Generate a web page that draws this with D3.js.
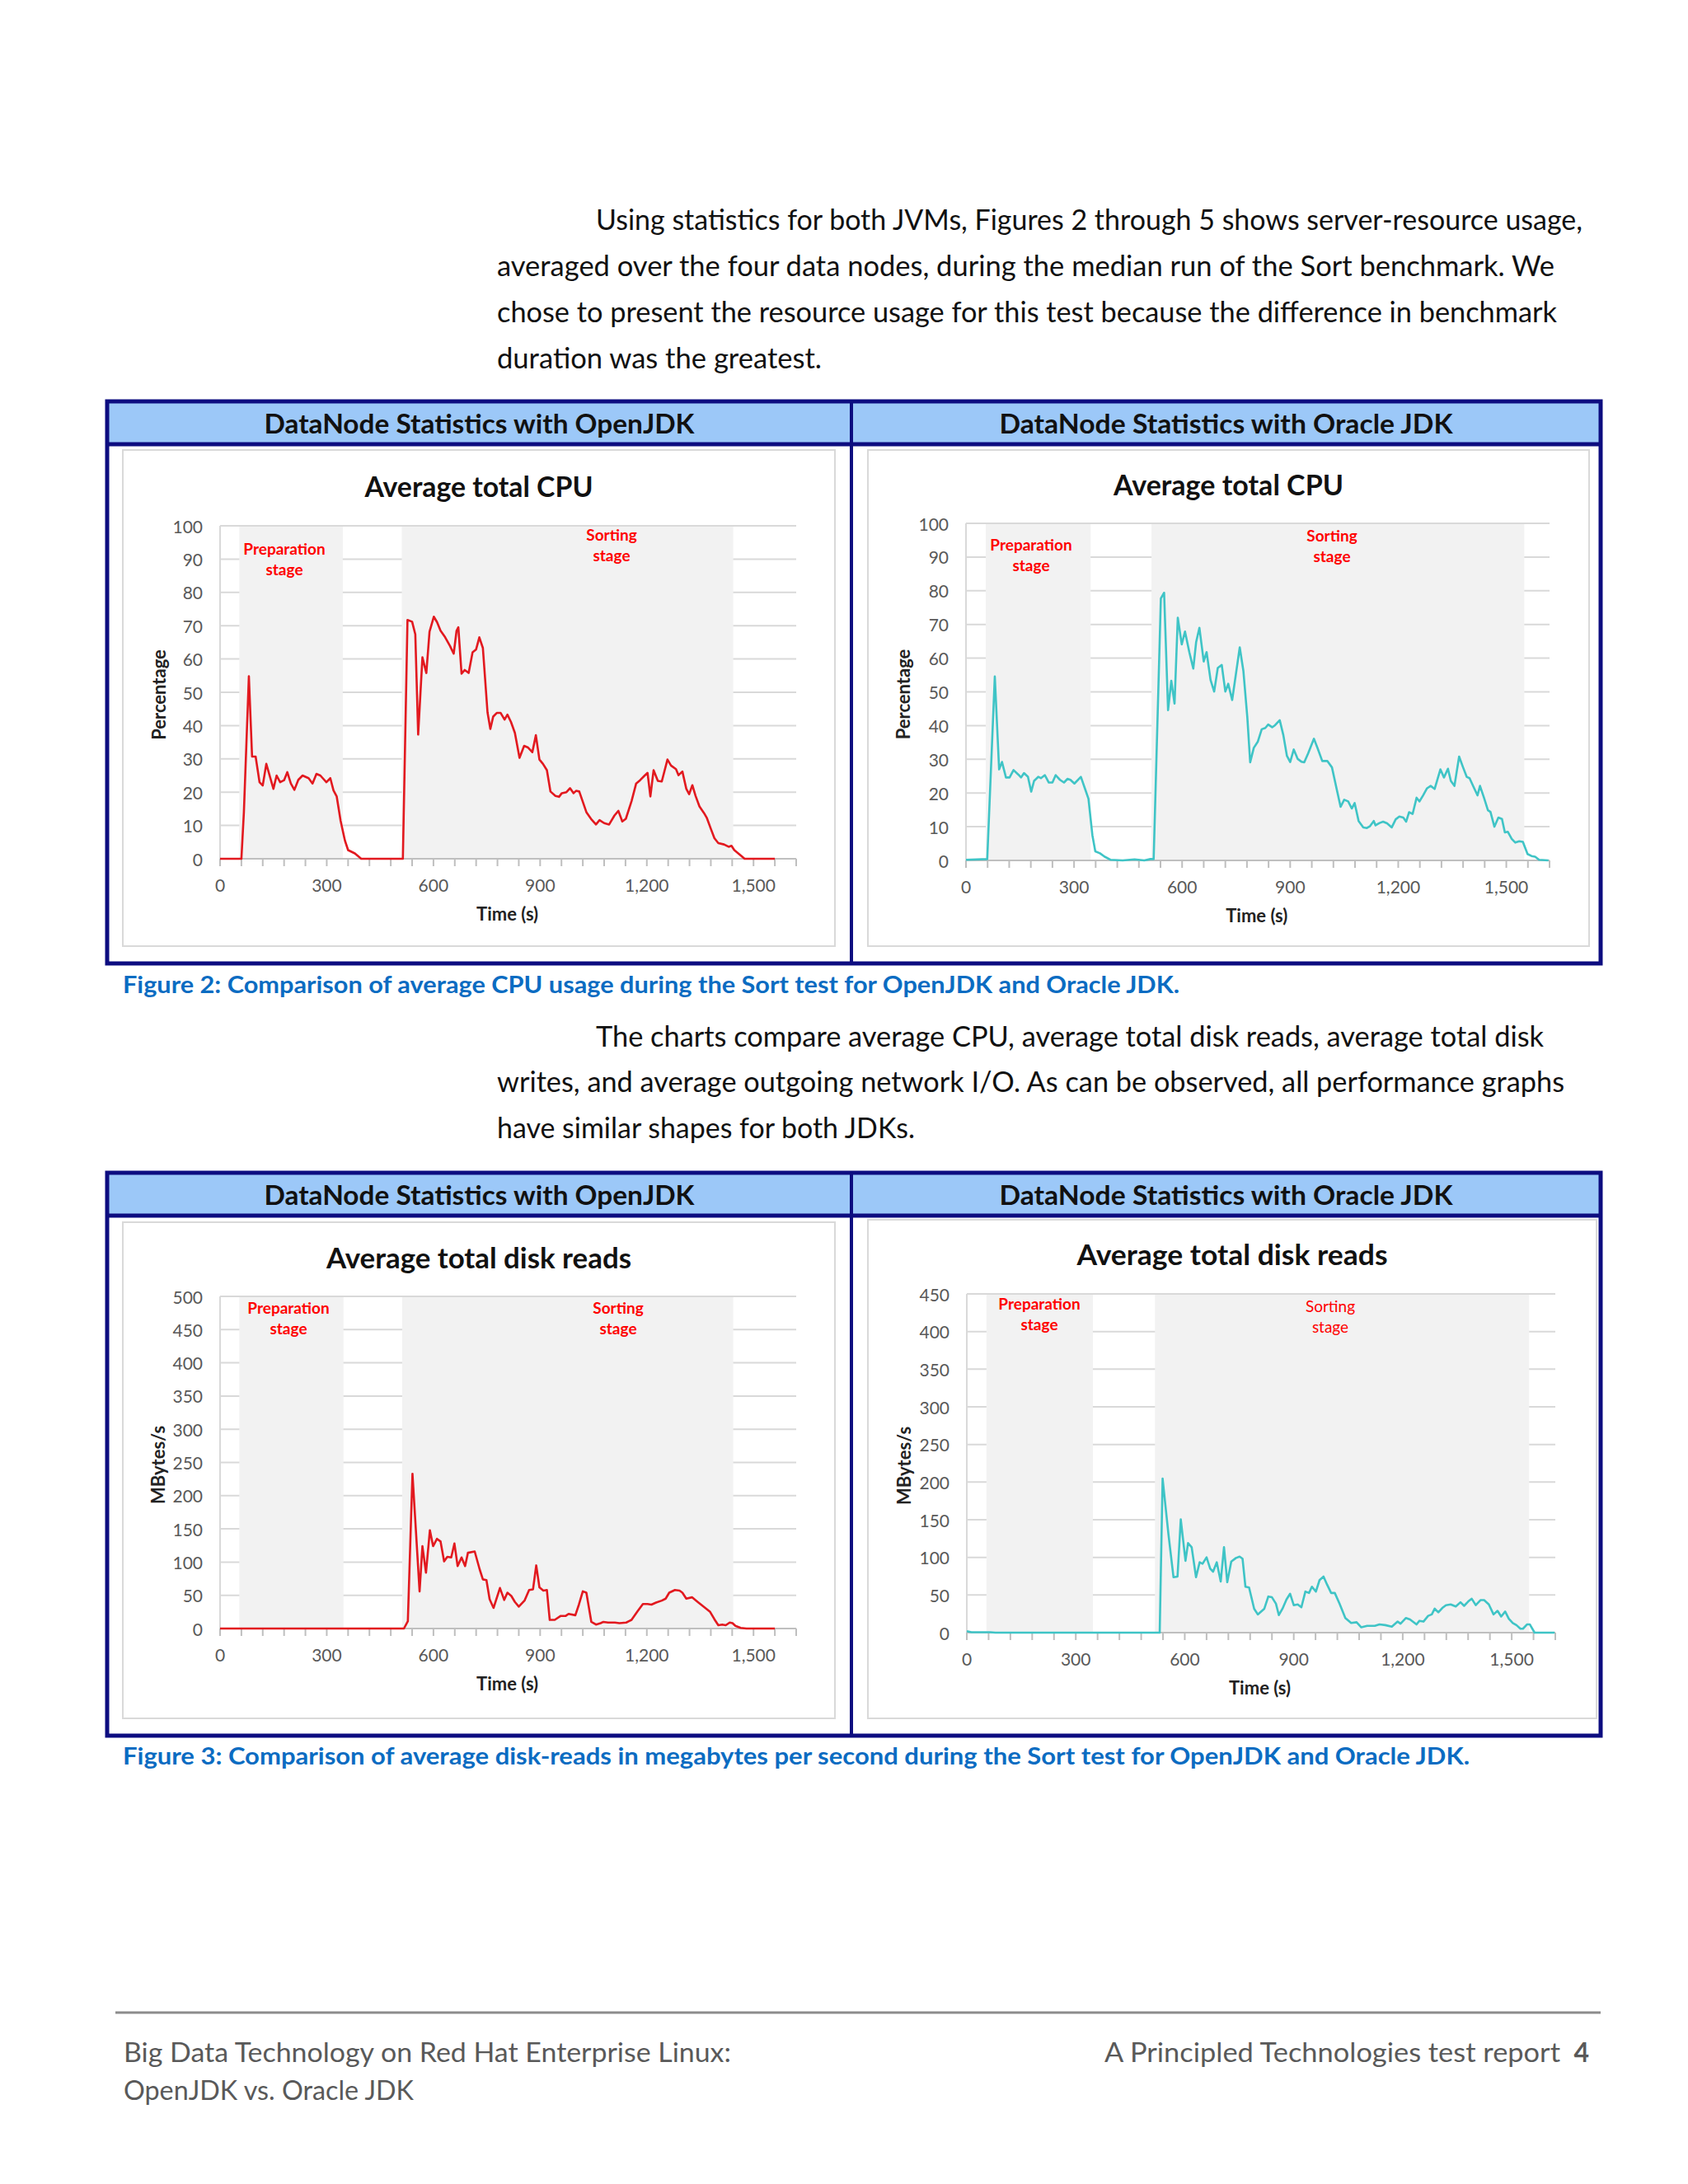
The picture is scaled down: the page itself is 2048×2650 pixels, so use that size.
<!DOCTYPE html>
<html>
<head>
<meta charset="utf-8">
<script src="https://cdn.jsdelivr.net/npm/d3@7"></script>
<style>
    body { margin: 0; background: #fff; }
    svg { display: block; font-family: Lato, "Open Sans", sans-serif; }
</style>
</head>
<body>
<svg width="2048" height="2650"></svg>
<script>
// Series: [time in s, value]
var cpuOpenJDK = [
    [0, 0], [60, 0], [67, 14], [81, 54.8], [90, 30.7], [100, 30.7], [111, 23], [120, 22], [130, 28.5],
    [150, 21], [159, 25], [169, 23], [180, 23.6], [189, 26], [199, 22.6], [209, 20.7], [220, 23.7],
    [232, 25], [249, 24.2], [260, 22.6], [271, 25.5], [282, 25], [299, 23], [310, 24.2], [319, 20.5],
    [328, 18.7], [339, 11.4], [351, 5.5], [360, 2.6], [379, 1.6], [397, 0], [514, 0], [527, 71.7],
    [540, 71.2], [549, 67.4], [557, 37.3], [569, 60.5], [580, 55.8], [589, 68.2], [601, 72.7],
    [610, 71.1], [620, 68.5], [633, 66.5], [646, 64], [657, 61.6], [665, 68.5], [670, 69.5],
    [679, 55.6], [688, 56.7], [699, 55.8], [710, 62], [720, 62.9], [729, 66.5], [739, 63.3],
    [752, 44], [760, 39], [768, 42.7], [778, 43.8], [789, 43.8], [800, 41.8], [808, 43.3],
    [818, 41.1], [829, 37.8], [842, 30.3], [855, 33.9], [866, 33.4], [878, 32], [888, 37.1],
    [898, 29.8], [908, 28.5], [919, 26.6], [929, 20.2], [943, 18.9], [953, 18.6], [961, 19.7],
    [974, 20], [984, 21.2], [994, 19.7], [1001, 20.4], [1010, 20.2], [1030, 14], [1043, 12],
    [1057, 10.3], [1067, 11.6], [1080, 10.7], [1094, 10.3], [1109, 13], [1120, 14.4], [1131, 11.2],
    [1141, 12], [1157, 17.3], [1170, 22.6], [1181, 23.6], [1194, 25], [1202, 25.8], [1210, 18.7],
    [1219, 26.6], [1231, 23.4], [1242, 23.2], [1258, 29.8], [1268, 28], [1282, 26.9], [1289, 25.1],
    [1300, 26.2], [1311, 21], [1319, 19.4], [1328, 22.1], [1337, 18.9], [1348, 15.7], [1361, 13.7],
    [1369, 12.2], [1380, 9], [1390, 6.2], [1401, 4.7], [1417, 4.3], [1430, 3.6], [1438, 3.9],
    [1446, 2.6], [1462, 1.2], [1475, 0], [1560, 0]
];
var cpuOracleJDK = [
    [0, 0.2], [59, 0.4], [80, 54.6], [92, 27], [100, 29.2], [111, 24.6], [121, 24.6], [132, 26.8],
    [145, 25.5], [153, 24.6], [161, 25.9], [172, 24.8], [181, 20.4], [189, 23.6], [201, 24.8],
    [208, 24.4], [219, 25.3], [230, 23.1], [240, 23.1], [249, 25.3], [261, 23.9], [272, 23.1],
    [282, 24.2], [290, 23.9], [301, 22.8], [319, 24.8], [330, 21.4], [340, 18.3], [351, 7.4],
    [359, 2.7], [372, 2.1], [385, 1.1], [401, 0.2], [435, 0], [468, 0.3], [495, 0], [512, 0.4],
    [521, 0.4], [541, 77.7], [550, 79.4], [561, 44.6], [570, 53.3], [579, 46.5], [588, 72],
    [599, 64.1], [608, 67.9], [620, 61.8], [631, 56.9], [639, 64.8], [648, 69], [660, 59],
    [668, 61.8], [679, 53.5], [689, 50.1], [699, 57.1], [710, 58], [720, 50.1], [728, 52.4],
    [739, 47.6], [760, 63.2], [770, 56.3], [781, 42.5], [789, 29.1], [799, 33.4], [810, 35.2],
    [821, 38.9], [831, 39.3], [839, 40.3], [850, 39.5], [858, 40.1], [871, 41.6], [881, 37.2],
    [891, 31], [900, 29.2], [910, 32.9], [921, 30.1], [931, 29.3], [939, 29.1], [950, 31.8],
    [966, 36.1], [976, 33.3], [989, 29.5], [1003, 29.5], [1016, 27.6], [1029, 21.2], [1040, 15.9],
    [1050, 18], [1061, 17.5], [1071, 15.4], [1079, 17], [1090, 11.7], [1103, 9.8], [1113, 9.6],
    [1121, 10.1], [1132, 11.7], [1137, 10.4], [1148, 11.1], [1158, 11.5], [1169, 11], [1182, 9.8],
    [1193, 12.2], [1203, 13], [1214, 12.7], [1222, 11.5], [1230, 14.3], [1240, 13.8], [1251, 18.6],
    [1259, 17.5], [1269, 19.3], [1280, 21.4], [1290, 22.1], [1301, 21.2], [1317, 27], [1327, 24.6],
    [1338, 27.2], [1346, 23.6], [1356, 22.1], [1369, 30.8], [1380, 27.6], [1390, 24.8], [1398, 24.4],
    [1409, 21.8], [1420, 19.3], [1427, 22.1], [1438, 18.6], [1449, 14.9], [1456, 14.4], [1467, 10],
    [1478, 12.7], [1488, 12.3], [1496, 8.3], [1504, 8.5], [1515, 6.4], [1525, 5.3], [1536, 5.7],
    [1546, 5.5], [1559, 1.9], [1570, 1.3], [1580, 1.1], [1591, 0.2], [1617, 0]
];
var readsOpenJDK = [
    [0, 0], [517, 0], [528, 11], [541, 233], [561, 56], [569, 124], [579, 84], [590, 148], [599, 124],
    [610, 135], [620, 131], [630, 101], [639, 108], [650, 107], [659, 128], [668, 94], [679, 107],
    [689, 94], [697, 114], [716, 116], [730, 89], [739, 74], [749, 73], [758, 44], [769, 31],
    [787, 61], [799, 43], [808, 54], [819, 49], [829, 40], [840, 33], [856, 42], [869, 58], [880, 59],
    [889, 95], [898, 62], [909, 57], [919, 58], [927, 13], [941, 13], [958, 19], [972, 19], [980, 22],
    [999, 20], [1009, 36], [1020, 56], [1030, 54], [1044, 10], [1057, 6], [1070, 8], [1078, 10],
    [1091, 9], [1110, 9], [1123, 8], [1142, 9], [1157, 13], [1174, 26], [1189, 37], [1202, 37],
    [1213, 36], [1226, 39], [1242, 42], [1253, 45], [1263, 54], [1279, 58], [1292, 57], [1300, 54],
    [1311, 45], [1327, 47], [1343, 40], [1362, 32], [1378, 25], [1390, 14], [1401, 5], [1412, 6],
    [1422, 5], [1433, 9], [1441, 8], [1449, 4], [1464, 1], [1480, 0], [1560, 0]
];
var readsOracleJDK = [
    [0, 1.9], [13, 0.5], [65, 0.5], [79, 0], [531, 0], [539, 204.6], [555, 131], [569, 73.6],
    [580, 74.5], [589, 150.5], [602, 95.4], [609, 119], [619, 113.5], [631, 73.6], [641, 93.5],
    [649, 91.6], [660, 100], [670, 85], [678, 81], [688, 93.5], [699, 68], [708, 113.5], [717, 67],
    [728, 94.5], [741, 99.2], [751, 101], [759, 98.3], [767, 61], [777, 60], [791, 31.8], [801, 24.2],
    [819, 31.8], [830, 48], [840, 47], [851, 38.5], [859, 23.3], [869, 31.8], [880, 44], [890, 51.7],
    [900, 36.5], [911, 37.5], [921, 33.7], [932, 54.6], [942, 52.7], [950, 61], [961, 54.6],
    [971, 69.8], [982, 74.5], [992, 63.6], [1003, 52.7], [1013, 52.7], [1026, 38.5], [1042, 19.5],
    [1058, 12.8], [1073, 13.8], [1086, 7.1], [1102, 9], [1123, 9], [1136, 10.9], [1152, 10],
    [1170, 8], [1186, 14.7], [1194, 11.9], [1209, 19.5], [1220, 17.6], [1238, 10.9], [1246, 15.7],
    [1257, 14.7], [1270, 22.3], [1280, 24.2], [1288, 31.8], [1298, 27], [1309, 32.8], [1319, 36.5],
    [1332, 37.5], [1346, 34.7], [1359, 40.4], [1369, 35.6], [1382, 42.2], [1390, 45], [1401, 36.5],
    [1414, 43.2], [1424, 43.2], [1437, 37.5], [1450, 24.2], [1461, 29], [1471, 21.4], [1482, 28],
    [1492, 18.5], [1503, 12.8], [1513, 10], [1524, 5.2], [1531, 5.2], [1542, 10.9], [1550, 10.9],
    [1563, 0], [1618, 0]
];

// Stage spans in seconds: [start, end]
var prepStages = [[54, 345], [55, 346], [54, 347], [54, 347]];
var sortStages = [[511, 1443], [515, 1550], [512, 1443], [518, 1548]];

// Axis settings
var xMax = 1620;
var xLabelTicks = [0, 300, 600, 900, 1200, 1500];
var xMinorStep = 60;
var cpuTicks = [0, 10, 20, 30, 40, 50, 60, 70, 80, 90, 100];
var openReadTicks = [0, 50, 100, 150, 200, 250, 300, 350, 400, 450, 500];
var oracleReadTicks = [0, 50, 100, 150, 200, 250, 300, 350, 400, 450];

var RED = "#e2191f", TEAL = "#3fc4c6", STAGE = "#ff0000";

var svg = d3.select("svg");

function txt(g, x, y, s, o) {
    o = o || {};
    var t = g.append("text")
        .attr("x", x).attr("y", y)
        .attr("dominant-baseline", "central")
        .attr("text-anchor", o.anchor || "start")
        .attr("font-size", o.size || 20)
        .attr("font-weight", o.weight || 400)
        .attr("fill", o.color || "#000")
        .text(s);
    if (o.width) t.attr("textLength", o.width).attr("lengthAdjust", "spacingAndGlyphs");
    if (o.rotate) t.attr("transform", "rotate(-90," + x + "," + y + ")");
    return t;
}

// Body paragraphs
var para1 = [
    ["Using statistics for both JVMs, Figures 2 through 5 shows server-resource usage,", 723, 1920, 265],
    ["averaged over the four data nodes, during the median run of the Sort benchmark. We", 603, 1886, 321],
    ["chose to present the resource usage for this test because the difference in benchmark", 603, 1889, 377],
    ["duration was the greatest.", 603, 997, 433]
];
var para2 = [
    ["The charts compare average CPU, average total disk reads, average total disk", 723, 1873, 1256],
    ["writes, and average outgoing network I/O. As can be observed, all performance graphs", 603, 1898, 1311],
    ["have similar shapes for both JDKs.", 603, 1110, 1367]
];
para1.concat(para2).forEach(function (l) {
    txt(svg, l[1], l[3], l[0], { size: 34, width: l[2] - l[1], color: "#111" });
});

// Two framed tables with blue header rows
function drawTable(top, bottom) {
    var L = 130, R = 1942, mid = 1033, hb = top + 52;
    svg.append("rect").attr("x", L).attr("y", top).attr("width", R - L).attr("height", hb - top)
        .attr("fill", "#9cc8f8");
    svg.append("rect").attr("x", L).attr("y", top).attr("width", R - L).attr("height", bottom - top)
        .attr("fill", "none").attr("stroke", "#0d0d80").attr("stroke-width", 5);
    svg.append("line").attr("x1", L).attr("x2", R).attr("y1", hb).attr("y2", hb)
        .attr("stroke", "#0d0d80").attr("stroke-width", 5);
    svg.append("line").attr("x1", mid).attr("x2", mid).attr("y1", top).attr("y2", bottom)
        .attr("stroke", "#0d0d80").attr("stroke-width", 4);
    txt(svg, (L + mid) / 2, (top + hb) / 2, "DataNode Statistics with OpenJDK",
        { anchor: "middle", size: 32, weight: 700, width: 522, color: "#111" });
    txt(svg, (mid + R) / 2, (top + hb) / 2, "DataNode Statistics with Oracle JDK",
        { anchor: "middle", size: 32, weight: 700, width: 550, color: "#111" });
}
drawTable(487, 1169);
drawTable(1423, 2106);

txt(svg, 149, 1193, "Figure 2: Comparison of average CPU usage during the Sort test for OpenJDK and Oracle JDK.",
    { size: 29, weight: 700, color: "#0b6cc2", width: 1282 });
txt(svg, 149, 2129, "Figure 3: Comparison of average disk-reads in megabytes per second during the Sort test for OpenJDK and Oracle JDK.",
    { size: 29, weight: 700, color: "#0b6cc2", width: 1634 });

// Charts
var charts = [
    { title: "Average total CPU", titleW: 277, yLabel: "Percentage", data: cpuOpenJDK, color: RED,
      yTicks: cpuTicks, box: [149, 546, 1013, 1148], xr: [267, 966], yr: [1042, 638], titleY: 589,
      yLabX: 192, prepLab: [345, 27], sortLab: [742, 10], sortBold: true },
    { title: "Average total CPU", titleW: 279, yLabel: "Percentage", data: cpuOracleJDK, color: TEAL,
      yTicks: cpuTicks, box: [1053, 546, 1928, 1148], xr: [1172, 1880], yr: [1044, 635], titleY: 587,
      yLabX: 1095, prepLab: [1251, 25], sortLab: [1616, 14], sortBold: true },
    { title: "Average total disk reads", titleW: 370, yLabel: "MBytes/s", data: readsOpenJDK, color: RED,
      yTicks: openReadTicks, box: [149, 1483, 1013, 2085], xr: [267, 966], yr: [1976, 1573], titleY: 1525,
      yLabX: 191, prepLab: [350, 13], sortLab: [750, 13], sortBold: true },
    { title: "Average total disk reads", titleW: 377, yLabel: "MBytes/s", data: readsOracleJDK, color: TEAL,
      yTicks: oracleReadTicks, box: [1053, 1480, 1937, 2085], xr: [1173, 1887], yr: [1981, 1570], titleY: 1521,
      yLabX: 1096, prepLab: [1261, 11], sortLab: [1614, 14], sortBold: false }
];

charts.forEach(function (c, i) {
    var g = svg.append("g");
    var b = c.box;
    g.append("rect").attr("x", b[0]).attr("y", b[1]).attr("width", b[2] - b[0]).attr("height", b[3] - b[1])
        .attr("fill", "#fff").attr("stroke", "#d9d9d9").attr("stroke-width", 2);

    var x = d3.scaleLinear().domain([0, xMax]).range(c.xr);
    var yMax = c.yTicks[c.yTicks.length - 1];
    var y = d3.scaleLinear().domain([0, yMax]).range(c.yr);

    txt(g, (b[0] + b[2]) / 2, c.titleY, c.title,
        { anchor: "middle", size: 34, weight: 700, width: c.titleW, color: "#111" });

    // Gridlines
    g.selectAll(".grid").data(c.yTicks.slice(1)).enter().append("line")
        .attr("x1", c.xr[0]).attr("x2", c.xr[1])
        .attr("y1", function (d) { return y(d); }).attr("y2", function (d) { return y(d); })
        .attr("stroke", "#d9d9d9").attr("stroke-width", 2);

    // Stage shading (covers the gridlines)
    [prepStages[i], sortStages[i]].forEach(function (s) {
        g.append("rect").attr("x", x(s[0])).attr("y", y(yMax) + 1)
            .attr("width", x(s[1]) - x(s[0])).attr("height", y(0) - y(yMax) - 1)
            .attr("fill", "#f2f2f2");
    });

    // Axes lines and ticks
    g.append("line").attr("x1", c.xr[0]).attr("x2", c.xr[0]).attr("y1", y(yMax)).attr("y2", y(0))
        .attr("stroke", "#d9d9d9").attr("stroke-width", 2);
    g.append("line").attr("x1", c.xr[0]).attr("x2", c.xr[1]).attr("y1", y(0)).attr("y2", y(0))
        .attr("stroke", "#bfbfbf").attr("stroke-width", 2);
    g.selectAll(".xt").data(d3.range(0, xMax + 1, xMinorStep)).enter().append("line")
        .attr("x1", function (d) { return x(d); }).attr("x2", function (d) { return x(d); })
        .attr("y1", y(0)).attr("y2", y(0) + 9)
        .attr("stroke", "#bfbfbf").attr("stroke-width", 2);

    var fmt = d3.format(",");
    xLabelTicks.forEach(function (t) {
        txt(g, x(t), y(0) + 31, fmt(t), { anchor: "middle", size: 21, color: "#595959" });
    });
    c.yTicks.forEach(function (t) {
        txt(g, c.xr[0] - 21, y(t), fmt(t), { anchor: "end", size: 21, color: "#595959" });
    });

    txt(g, (c.xr[0] + x(1500)) / 2 + 25, y(0) + 66, "Time (s)", { anchor: "middle", size: 22, weight: 700, color: "#222" });
    txt(g, c.yLabX, (y(0) + y(yMax)) / 2 + 3, c.yLabel, { anchor: "middle", size: 22, weight: 700, color: "#222", rotate: true });

    // Stage labels
    var top = y(yMax);
    txt(g, c.prepLab[0], top + c.prepLab[1], "Preparation", { anchor: "middle", size: 19, weight: 700, color: STAGE });
    txt(g, c.prepLab[0], top + c.prepLab[1] + 25, "stage", { anchor: "middle", size: 19, weight: 700, color: STAGE });
    var sw = c.sortBold ? 700 : 400;
    txt(g, c.sortLab[0], top + c.sortLab[1], "Sorting", { anchor: "middle", size: 19, weight: sw, color: STAGE });
    txt(g, c.sortLab[0], top + c.sortLab[1] + 25, "stage", { anchor: "middle", size: 19, weight: sw, color: STAGE });

    // Series line
    g.append("path").datum(c.data)
        .attr("fill", "none").attr("stroke", c.color).attr("stroke-width", 2.6)
        .attr("stroke-linejoin", "round")
        .attr("d", d3.line()
            .x(function (d) { return x(d[0]); })
            .y(function (d) { return y(d[1]); }));
});

// Footer
svg.append("line").attr("x1", 140).attr("x2", 1942).attr("y1", 2442).attr("y2", 2442)
    .attr("stroke", "#8c8c8c").attr("stroke-width", 3);
txt(svg, 150, 2489, "Big Data Technology on Red Hat Enterprise Linux:", { size: 32, color: "#595959", width: 737 });
txt(svg, 150, 2535, "OpenJDK vs. Oracle JDK", { size: 32, color: "#595959", width: 352 });
txt(svg, 1340, 2489, "A Principled Technologies test report", { size: 32, color: "#595959", width: 553 });
txt(svg, 1928, 2489, "4", { size: 32, weight: 700, color: "#595959", anchor: "end" });
</script>
</body>
</html>
